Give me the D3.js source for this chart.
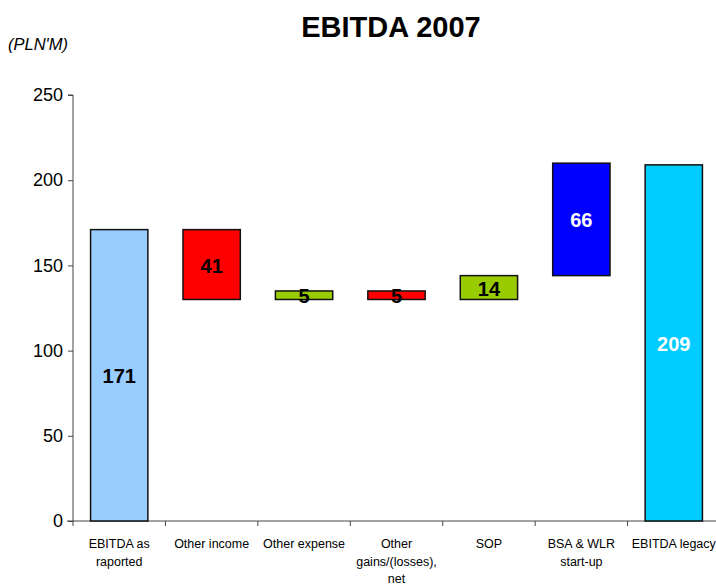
<!DOCTYPE html>
<html>
<head>
<meta charset="utf-8">
<script src="https://cdn.jsdelivr.net/npm/d3@7"></script>
<style>
  html, body { margin: 0; padding: 0; background: #fff; }
  svg { display: block; font-family: "Liberation Sans", Arial, sans-serif; }
</style>
</head>
<body>
<svg id="chart" width="716" height="586"></svg>
<script>
// Bridge steps, from reported EBITDA to legacy EBITDA (PLN'M)
const categories = ["EBITDA as\nraported", "Other income", "Other expense", "Other\ngains/(losses),\nnet", "SOP", "BSA & WLR\nstart-up", "EBITDA legacy"];
const barStart = [0, 171, 130, 135, 130, 144, 0];
const barEnd   = [171, 130, 135, 130, 144, 210, 209];
const labels   = ["171", "41", "5", "5", "14", "66", "209"];
const fills    = ["#99ccff", "#ff0000", "#99cc00", "#ff0000", "#99cc00", "#0000ff", "#00ccff"];
const labelColors = ["#000", "#000", "#000", "#000", "#000", "#fff", "#fff"];
const yTicks = [0, 50, 100, 150, 200, 250];

const svg = d3.select("#chart");
const axisX = 73;

const x = d3.scaleBand().domain(d3.range(categories.length)).range([axisX, 720]).paddingInner(0).paddingOuter(0);
const y = d3.scaleLinear().domain([0, 250]).range([521, 95]);
const barW = x.bandwidth() * 0.62;

// title and unit
svg.append("text").attr("x", 391).attr("y", 37).attr("text-anchor", "middle")
  .attr("font-size", 29).attr("font-weight", "bold").text("EBITDA 2007");
svg.append("text").attr("x", 8).attr("y", 50).attr("font-size", 16.5).attr("font-style", "italic")
  .text("(PLN'M)");

// y axis
const yAxis = d3.axisLeft(y).tickValues(yTicks).tickSize(5).tickPadding(5);
const gy = svg.append("g").attr("transform", `translate(${axisX},0)`).call(yAxis);
gy.select(".domain").attr("d", `M-5,${y(250)}H0V${y(0) + 5}`).attr("stroke", "#444");
gy.selectAll(".tick line").attr("stroke", "#444");
gy.selectAll(".tick text").attr("font-size", 18).attr("fill", "#000").attr("font-family", "Liberation Sans, Arial, sans-serif");

// x axis baseline with ticks at band boundaries
svg.append("line").attr("x1", 67).attr("x2", 716).attr("y1", y(0)).attr("y2", y(0)).attr("stroke", "#444");
svg.selectAll("line.xt").data(d3.range(1, categories.length)).enter().append("line")
  .attr("class", "xt")
  .attr("x1", d => x(d)).attr("x2", d => x(d))
  .attr("y1", y(0)).attr("y2", y(0) + 5).attr("stroke", "#444");

// category labels
const cl = svg.selectAll("text.cat").data(categories).enter().append("text")
  .attr("class", "cat").attr("text-anchor", "middle").attr("font-size", 12.5)
  .attr("transform", (d, i) => `translate(${x(i) + x.bandwidth() / 2},548)`);
cl.selectAll("tspan").data(d => d.split("\n")).enter().append("tspan")
  .attr("x", 0).attr("dy", (d, i) => i === 0 ? 0 : 17.5).text(d => d);

// bars
svg.selectAll("rect.bar").data(categories).enter().append("rect")
  .attr("class", "bar")
  .attr("x", (d, i) => x(i) + (x.bandwidth() - barW) / 2)
  .attr("width", barW)
  .attr("y", (d, i) => y(Math.max(barStart[i], barEnd[i])))
  .attr("height", (d, i) => Math.abs(y(barStart[i]) - y(barEnd[i])))
  .attr("fill", (d, i) => fills[i])
  .attr("stroke", "#111").attr("stroke-width", 1.5);

// value labels centred in each bar
svg.selectAll("text.val").data(labels).enter().append("text")
  .attr("class", "val").attr("text-anchor", "middle").attr("dominant-baseline", "central")
  .attr("x", (d, i) => x(i) + x.bandwidth() / 2)
  .attr("y", (d, i) => y((barStart[i] + barEnd[i]) / 2) + 1)
  .attr("font-size", 20).attr("font-weight", "bold")
  .attr("fill", (d, i) => labelColors[i])
  .text(d => d);
</script>
</body>
</html>
